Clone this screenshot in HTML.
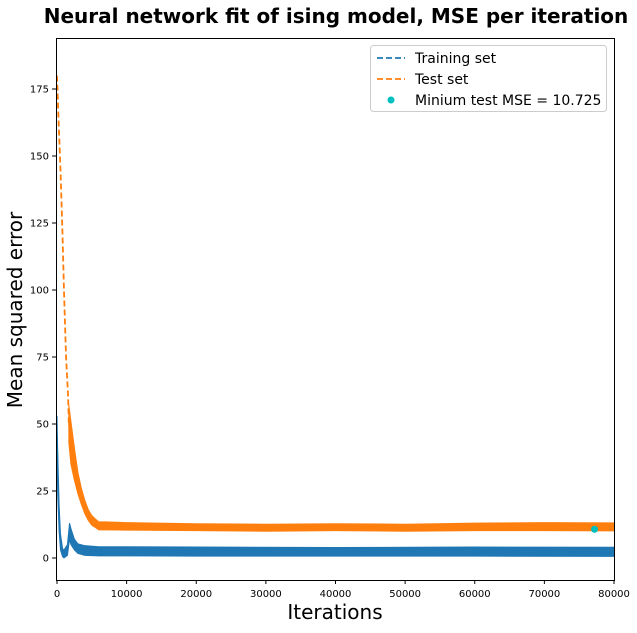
<!DOCTYPE html>
<html><head><meta charset="utf-8"><style>
body{margin:0;background:#fff;font-family:"DejaVu Sans","Liberation Sans",sans-serif;}
svg text{font-family:"DejaVu Sans","Liberation Sans",sans-serif;}
</style></head><body>
<svg id="chart" width="637" height="629">
<text x="336" y="23" text-anchor="middle" font-size="20" font-weight="bold">Neural network fit of ising model, MSE per iteration</text>
<text transform="translate(22,310) rotate(-90)" text-anchor="middle" font-size="20">Mean squared error</text>
<text x="335" y="619" text-anchor="middle" font-size="20">Iterations</text>
<g id="plot"></g>
<rect x="56.5" y="38.5" width="558" height="542" fill="none" stroke="#000" stroke-width="1"/>
<g>
<rect x="370.5" y="45.5" width="236" height="66" rx="3" fill="#fff" fill-opacity="0.8" stroke="#ccc"/>
<line x1="377" y1="58" x2="405" y2="58" stroke="#1f77b4" stroke-width="1.8" stroke-dasharray="6,3"/>
<text x="415" y="63" font-size="14">Training set</text>
<line x1="377" y1="79" x2="405" y2="79" stroke="#ff7f0e" stroke-width="1.8" stroke-dasharray="6,3"/>
<text x="415" y="84" font-size="14">Test set</text>
<circle cx="391" cy="100" r="3.5" fill="#00bfbf"/>
<text x="415" y="105" font-size="14">Minium test MSE = 10.725</text>
</g>
</svg>
<script>
const xTicks=[0,10000,20000,30000,40000,50000,60000,70000,80000];
const yTicks=[0,25,50,75,100,125,150,175];
const testIter=[0,200,500,800,1000,1300,1600,1700,2000,2500,3000,3500,4000,4500,5000,5500,6000,7000,10000,20000,30000,40000,50000,60000,70000,80000];
const testMean=[180,165,145,120,100,75,60,50,43,35,28,23,19,16,14,13,12,12,11.8,11.5,11.3,11.5,11.3,11.6,11.7,11.6];
const testSpread=[0,0,0,0,0,0,0,7,8,6,4,3,2.5,2,1.8,1.6,1.5,1.5,1.4,1.3,1.3,1.3,1.3,1.4,1.5,1.5];
const trainIter=[0,100,300,500,800,1000,1500,1800,2000,2500,3000,4000,6000,10000,20000,40000,60000,80000];
const trainMean=[45,32,15,6,2,1.5,3,10,8,5,3.5,2.8,2.5,2.5,2.4,2.3,2.4,2.3];
const trainSpread=[8,8,5,3,1.5,1.5,2,3,3,2,1.8,1.8,1.7,1.7,1.7,1.6,1.7,1.7];
const minIter=77200, minMSE=10.725;
const dashedUntil=1700;
const X=v=>57+v/80000*557, Y=v=>558-v*2.68;
const NS="http://www.w3.org/2000/svg";
const plot=document.getElementById('plot');
function mk(tag,attrs){const e=document.createElementNS(NS,tag);for(const k in attrs)e.setAttribute(k,attrs[k]);plot.appendChild(e);return e;}
xTicks.forEach(t=>{
 const l=mk('line',{x1:X(t),x2:X(t),y1:580,y2:584,stroke:'#000'});
 
 
 const tx=mk('text',{x:X(t),y:597,'text-anchor':'middle','font-size':10});tx.textContent=t;
 
 
});
yTicks.forEach(t=>{
 const l=mk('line',{x1:52,x2:56,y1:Y(t),y2:Y(t),stroke:'#000'});
 
 
 const tx=mk('text',{x:49,y:Y(t)+3.5,'text-anchor':'end','font-size':10});tx.textContent=t;
 
 
});
function band(iter,mean,spread,color,name){
 let up=[],dn=[];
 iter.forEach((v,i)=>{up.push(X(v)+','+Y(mean[i]+spread[i]));dn.unshift(X(v)+','+Y(mean[i]-spread[i]));});
 const p=mk('polygon',{points:up.concat(dn).join(' '),fill:color,stroke:color,'stroke-width':1});
 
 
 const pts=iter.map((v,i)=>X(v)+','+Y(mean[i])).join(' ');
 const l=mk('polyline',{points:pts,fill:'none',stroke:color,'stroke-width':1.5});
 
 
}
// test: dashed early section, band afterwards
const di=testIter.findIndex(v=>v>=dashedUntil);
const dpts=testIter.slice(0,di+1).map((v,i)=>X(v)+','+Y(testMean[i])).join(' ');
const dl=mk('polyline',{points:dpts,fill:'none',stroke:'#ff7f0e','stroke-width':1.8,'stroke-dasharray':'6,3'});


band(testIter.slice(di),testMean.slice(di),testSpread.slice(di),'#ff7f0e','test-series');
band(trainIter,trainMean,trainSpread,'#1f77b4','train-series');
const c=mk('circle',{cx:X(minIter),cy:Y(minMSE),r:3.5,fill:'#00bfbf'});


</script>
</body></html>
